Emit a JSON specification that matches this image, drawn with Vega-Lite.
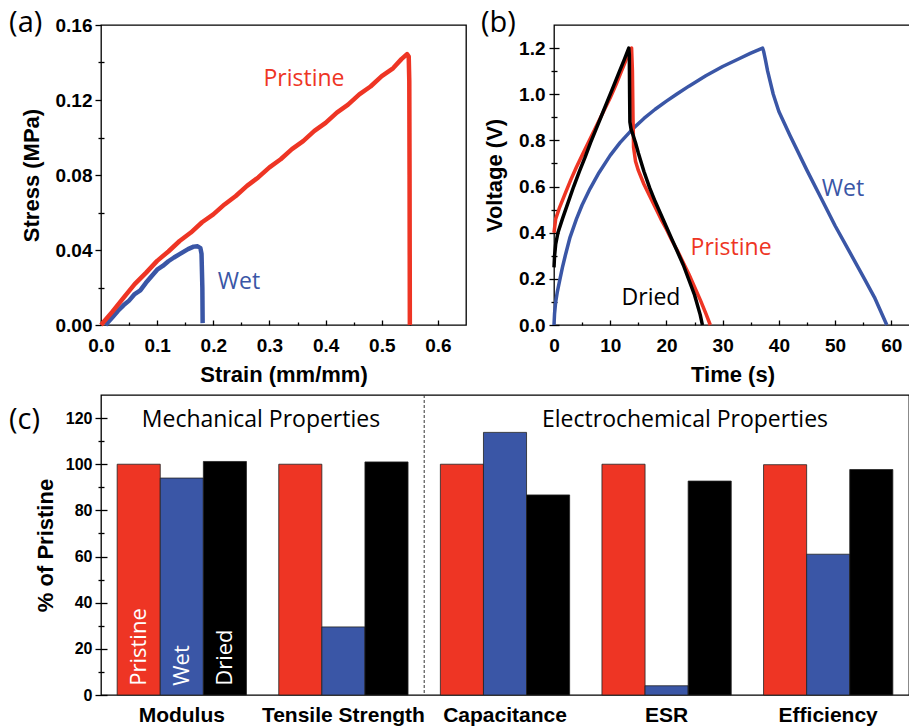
{
  "$schema": "https://vega.github.io/schema/vega-lite/v6.json",
  "padding": {"left": 8, "top": 8, "right": 0, "bottom": 0},
  "config": {
    "view": {"stroke": "#000", "strokeWidth": 1.3},
    "axis": {"grid": false, "domain": false, "labelFlush": false, "labelOverlap": false, "tickColor": "#000", "tickWidth": 1.3, "labelColor": "#000", "titleColor": "#000", "labelFont": "Liberation Sans", "titleFont": "Liberation Sans", "labelFontWeight": "bold", "titleFontWeight": "bold"},
    "text": {"font": "Open Sans"}
  },
  "spacing": 7,
  "vconcat": [
    {
      "spacing": 13,
      "hconcat": [
        {
          "width": 365,
          "height": 300,
          "layer": [
            {
              "data": {"values": [
                {"series": "Wet", "strain": 0.008, "stress": 0.0},
                {"series": "Wet", "strain": 0.02, "stress": 0.004},
                {"series": "Wet", "strain": 0.03, "stress": 0.0075},
                {"series": "Wet", "strain": 0.04, "stress": 0.0105},
                {"series": "Wet", "strain": 0.05, "stress": 0.013},
                {"series": "Wet", "strain": 0.06, "stress": 0.0165},
                {"series": "Wet", "strain": 0.07, "stress": 0.0185},
                {"series": "Wet", "strain": 0.08, "stress": 0.0225},
                {"series": "Wet", "strain": 0.09, "stress": 0.026},
                {"series": "Wet", "strain": 0.1, "stress": 0.0295},
                {"series": "Wet", "strain": 0.11, "stress": 0.0315},
                {"series": "Wet", "strain": 0.12, "stress": 0.034},
                {"series": "Wet", "strain": 0.13, "stress": 0.036},
                {"series": "Wet", "strain": 0.14, "stress": 0.0378},
                {"series": "Wet", "strain": 0.155, "stress": 0.0405},
                {"series": "Wet", "strain": 0.165, "stress": 0.0418},
                {"series": "Wet", "strain": 0.172, "stress": 0.042},
                {"series": "Wet", "strain": 0.177, "stress": 0.041},
                {"series": "Wet", "strain": 0.179, "stress": 0.038},
                {"series": "Wet", "strain": 0.1805, "stress": 0.02},
                {"series": "Wet", "strain": 0.181, "stress": 0.001},
                {"series": "Pristine", "strain": 0.0, "stress": 0.0},
                {"series": "Pristine", "strain": 0.02, "stress": 0.007},
                {"series": "Pristine", "strain": 0.04, "stress": 0.0145},
                {"series": "Pristine", "strain": 0.06, "stress": 0.0218},
                {"series": "Pristine", "strain": 0.08, "stress": 0.0278},
                {"series": "Pristine", "strain": 0.1, "stress": 0.0342},
                {"series": "Pristine", "strain": 0.12, "stress": 0.0392},
                {"series": "Pristine", "strain": 0.14, "stress": 0.0448},
                {"series": "Pristine", "strain": 0.16, "stress": 0.0493},
                {"series": "Pristine", "strain": 0.18, "stress": 0.0548},
                {"series": "Pristine", "strain": 0.2, "stress": 0.059},
                {"series": "Pristine", "strain": 0.22, "stress": 0.0643},
                {"series": "Pristine", "strain": 0.24, "stress": 0.0688},
                {"series": "Pristine", "strain": 0.26, "stress": 0.0742},
                {"series": "Pristine", "strain": 0.28, "stress": 0.0787},
                {"series": "Pristine", "strain": 0.3, "stress": 0.0841},
                {"series": "Pristine", "strain": 0.32, "stress": 0.0884},
                {"series": "Pristine", "strain": 0.34, "stress": 0.0938},
                {"series": "Pristine", "strain": 0.36, "stress": 0.0981},
                {"series": "Pristine", "strain": 0.38, "stress": 0.1035},
                {"series": "Pristine", "strain": 0.4, "stress": 0.1078},
                {"series": "Pristine", "strain": 0.42, "stress": 0.1133},
                {"series": "Pristine", "strain": 0.44, "stress": 0.1175},
                {"series": "Pristine", "strain": 0.46, "stress": 0.123},
                {"series": "Pristine", "strain": 0.48, "stress": 0.1272},
                {"series": "Pristine", "strain": 0.5, "stress": 0.1327},
                {"series": "Pristine", "strain": 0.52, "stress": 0.1369},
                {"series": "Pristine", "strain": 0.535, "stress": 0.1418},
                {"series": "Pristine", "strain": 0.545, "stress": 0.1445},
                {"series": "Pristine", "strain": 0.548, "stress": 0.1432},
                {"series": "Pristine", "strain": 0.549, "stress": 0.13},
                {"series": "Pristine", "strain": 0.5495, "stress": 0.08},
                {"series": "Pristine", "strain": 0.55, "stress": 0.0}
              ]},
              "mark": {"type": "line", "strokeWidth": 4.5, "strokeJoin": "round"},
              "encoding": {
                "x": {"field": "strain", "type": "quantitative", "scale": {"domain": [0, 0.65], "nice": false, "zero": false},
                  "axis": {"orient": "bottom", "values": [0, 0.1, 0.2, 0.3, 0.4, 0.5, 0.6], "format": ".1f", "tickSize": -5, "labelFontSize": 19, "labelPadding": 16, "title": "Strain (mm/mm)", "titleFontSize": 22, "titlePadding": 9}},
                "y": {"field": "stress", "type": "quantitative", "scale": {"domain": [0, 0.16], "nice": false},
                  "axis": {"orient": "left", "values": [0, 0.04, 0.08, 0.12, 0.16], "format": ".2f", "tickSize": 6, "labelFontSize": 19, "labelPadding": 3, "title": "Stress (MPa)", "titleFontSize": 22, "titlePadding": 12}},
                "color": {"field": "series", "type": "nominal", "scale": {"domain": ["Pristine", "Wet", "Dried"], "range": ["#EE3524", "#3A56A6", "#000000"]}, "legend": null}
              }
            },
            {
              "data": {"values": [
                {"series": "Pristine", "sx": 0.3615, "sy": 0.1312},
                {"series": "Wet", "sx": 0.2458, "sy": 0.0229}
              ]},
              "mark": {"type": "text", "fontSize": 23, "align": "center", "baseline": "middle"},
              "encoding": {
                "x": {"field": "sx", "type": "quantitative", "scale": {"domain": [0, 0.65], "nice": false, "zero": false}, "axis": null},
                "y": {"field": "sy", "type": "quantitative", "scale": {"domain": [0, 0.16], "nice": false}, "axis": null},
                "text": {"field": "series"},
                "color": {"field": "series", "type": "nominal", "scale": {"domain": ["Pristine", "Wet", "Dried"], "range": ["#EE3524", "#3A56A6", "#000000"]}, "legend": null}
              }
            },
            {
              "data": {"values": [{"panel": "(a)", "px": -0.1637, "py": 0.1611}]},
              "mark": {"type": "text", "fontSize": 29, "align": "left", "baseline": "middle", "color": "#000"},
              "encoding": {
                "x": {"field": "px", "type": "quantitative", "scale": {"domain": [0, 0.65], "nice": false, "zero": false}, "axis": null},
                "y": {"field": "py", "type": "quantitative", "scale": {"domain": [0, 0.16], "nice": false}, "axis": null},
                "text": {"field": "panel"}
              }
            },
            {
              "data": {"values": [{}]},
              "mark": {"type": "point", "opacity": 0},
              "encoding": {
                "x": {"datum": 0, "type": "quantitative", "scale": {"domain": [0, 0.65], "nice": false, "zero": false},
                  "axis": {"orient": "bottom", "values": [0.05, 0.15, 0.25, 0.35, 0.45, 0.55], "labels": false, "tickSize": -3, "title": null}},
                "y": {"datum": 0, "type": "quantitative", "scale": {"domain": [0, 0.16], "nice": false},
                  "axis": {"orient": "left", "values": [0.02, 0.06, 0.1, 0.14], "labels": false, "offset": -3, "tickSize": 6, "title": null}}
              }
            }
          ],
          "resolve": {"axis": {"x": "independent", "y": "independent"}}
        },
        {
          "width": 357,
          "height": 300,
          "layer": [
            {
              "data": {"values": [
                {"series": "Wet", "t": 0.0, "v": 0.0},
                {"series": "Wet", "t": 0.1, "v": 0.05},
                {"series": "Wet", "t": 0.3, "v": 0.1},
                {"series": "Wet", "t": 0.6, "v": 0.145},
                {"series": "Wet", "t": 1.07, "v": 0.2},
                {"series": "Wet", "t": 1.5, "v": 0.25},
                {"series": "Wet", "t": 2.0, "v": 0.3},
                {"series": "Wet", "t": 2.85, "v": 0.38},
                {"series": "Wet", "t": 4.0, "v": 0.46},
                {"series": "Wet", "t": 5.0, "v": 0.52},
                {"series": "Wet", "t": 6.4, "v": 0.59},
                {"series": "Wet", "t": 8.0, "v": 0.66},
                {"series": "Wet", "t": 10.0, "v": 0.735},
                {"series": "Wet", "t": 11.75, "v": 0.79},
                {"series": "Wet", "t": 14.0, "v": 0.85},
                {"series": "Wet", "t": 16.0, "v": 0.895},
                {"series": "Wet", "t": 18.0, "v": 0.935},
                {"series": "Wet", "t": 20.0, "v": 0.97},
                {"series": "Wet", "t": 21.8, "v": 1.0},
                {"series": "Wet", "t": 24.0, "v": 1.035},
                {"series": "Wet", "t": 27.0, "v": 1.08},
                {"series": "Wet", "t": 30.0, "v": 1.12},
                {"series": "Wet", "t": 33.0, "v": 1.155},
                {"series": "Wet", "t": 35.0, "v": 1.178},
                {"series": "Wet", "t": 37.1, "v": 1.2},
                {"series": "Wet", "t": 37.3, "v": 1.185},
                {"series": "Wet", "t": 37.6, "v": 1.15},
                {"series": "Wet", "t": 38.0, "v": 1.1},
                {"series": "Wet", "t": 39.0, "v": 1.0},
                {"series": "Wet", "t": 40.0, "v": 0.925},
                {"series": "Wet", "t": 42.0, "v": 0.82},
                {"series": "Wet", "t": 45.0, "v": 0.67},
                {"series": "Wet", "t": 47.5, "v": 0.55},
                {"series": "Wet", "t": 50.0, "v": 0.43},
                {"series": "Wet", "t": 52.5, "v": 0.32},
                {"series": "Wet", "t": 55.0, "v": 0.21},
                {"series": "Wet", "t": 57.0, "v": 0.12},
                {"series": "Wet", "t": 59.2, "v": 0.0},
                {"series": "Pristine", "t": 0.0, "v": 0.4},
                {"series": "Pristine", "t": 0.3, "v": 0.46},
                {"series": "Pristine", "t": 1.0, "v": 0.51},
                {"series": "Pristine", "t": 2.0, "v": 0.57},
                {"series": "Pristine", "t": 3.0, "v": 0.63},
                {"series": "Pristine", "t": 4.0, "v": 0.685},
                {"series": "Pristine", "t": 5.0, "v": 0.735},
                {"series": "Pristine", "t": 6.0, "v": 0.785},
                {"series": "Pristine", "t": 7.0, "v": 0.835},
                {"series": "Pristine", "t": 8.0, "v": 0.885},
                {"series": "Pristine", "t": 9.0, "v": 0.935},
                {"series": "Pristine", "t": 10.0, "v": 0.985},
                {"series": "Pristine", "t": 11.0, "v": 1.04},
                {"series": "Pristine", "t": 12.0, "v": 1.1},
                {"series": "Pristine", "t": 13.0, "v": 1.16},
                {"series": "Pristine", "t": 13.8, "v": 1.2},
                {"series": "Pristine", "t": 13.95, "v": 1.1},
                {"series": "Pristine", "t": 14.05, "v": 0.9},
                {"series": "Pristine", "t": 14.15, "v": 0.77},
                {"series": "Pristine", "t": 14.5, "v": 0.71},
                {"series": "Pristine", "t": 15.0, "v": 0.67},
                {"series": "Pristine", "t": 16.0, "v": 0.61},
                {"series": "Pristine", "t": 17.0, "v": 0.56},
                {"series": "Pristine", "t": 18.0, "v": 0.51},
                {"series": "Pristine", "t": 19.0, "v": 0.46},
                {"series": "Pristine", "t": 20.0, "v": 0.415},
                {"series": "Pristine", "t": 21.0, "v": 0.365},
                {"series": "Pristine", "t": 22.0, "v": 0.32},
                {"series": "Pristine", "t": 23.0, "v": 0.27},
                {"series": "Pristine", "t": 24.0, "v": 0.22},
                {"series": "Pristine", "t": 25.0, "v": 0.165},
                {"series": "Pristine", "t": 26.0, "v": 0.11},
                {"series": "Pristine", "t": 27.0, "v": 0.05},
                {"series": "Pristine", "t": 27.8, "v": 0.0},
                {"series": "Dried", "t": 0.0, "v": 0.25},
                {"series": "Dried", "t": 0.1, "v": 0.3},
                {"series": "Dried", "t": 0.3, "v": 0.35},
                {"series": "Dried", "t": 0.7, "v": 0.4},
                {"series": "Dried", "t": 1.5, "v": 0.46},
                {"series": "Dried", "t": 2.5, "v": 0.53},
                {"series": "Dried", "t": 3.5, "v": 0.6},
                {"series": "Dried", "t": 4.5, "v": 0.665},
                {"series": "Dried", "t": 5.5, "v": 0.725},
                {"series": "Dried", "t": 6.5, "v": 0.79},
                {"series": "Dried", "t": 7.5, "v": 0.85},
                {"series": "Dried", "t": 8.5, "v": 0.91},
                {"series": "Dried", "t": 9.5, "v": 0.97},
                {"series": "Dried", "t": 10.5, "v": 1.03},
                {"series": "Dried", "t": 11.5, "v": 1.09},
                {"series": "Dried", "t": 12.5, "v": 1.15},
                {"series": "Dried", "t": 13.3, "v": 1.2},
                {"series": "Dried", "t": 13.4, "v": 1.17},
                {"series": "Dried", "t": 13.45, "v": 1.0},
                {"series": "Dried", "t": 13.5, "v": 0.88},
                {"series": "Dried", "t": 13.7, "v": 0.85},
                {"series": "Dried", "t": 14.1, "v": 0.82},
                {"series": "Dried", "t": 14.5, "v": 0.79},
                {"series": "Dried", "t": 15.0, "v": 0.745},
                {"series": "Dried", "t": 16.0, "v": 0.665},
                {"series": "Dried", "t": 17.0, "v": 0.595},
                {"series": "Dried", "t": 18.0, "v": 0.535},
                {"series": "Dried", "t": 19.0, "v": 0.48},
                {"series": "Dried", "t": 20.0, "v": 0.425},
                {"series": "Dried", "t": 21.0, "v": 0.37},
                {"series": "Dried", "t": 22.0, "v": 0.315},
                {"series": "Dried", "t": 23.0, "v": 0.26},
                {"series": "Dried", "t": 24.0, "v": 0.195},
                {"series": "Dried", "t": 25.0, "v": 0.13},
                {"series": "Dried", "t": 26.0, "v": 0.045},
                {"series": "Dried", "t": 26.4, "v": 0.0}
              ]},
              "mark": {"type": "line", "strokeWidth": 3.5, "strokeJoin": "round"},
              "encoding": {
                "x": {"field": "t", "type": "quantitative", "scale": {"domain": [0, 63.5], "nice": false, "zero": false},
                  "axis": {"orient": "bottom", "values": [0, 10, 20, 30, 40, 50, 60], "tickSize": -5, "labelFontSize": 19, "labelPadding": 16, "title": "Time (s)", "titleFontSize": 22, "titlePadding": 9}},
                "y": {"field": "v", "type": "quantitative", "scale": {"domain": [0, 1.3], "nice": false},
                  "axis": {"orient": "left", "values": [0, 0.2, 0.4, 0.6, 0.8, 1.0, 1.2], "format": ".1f", "offset": -5, "tickSize": 10, "labelFontSize": 19, "labelPadding": 4, "title": "Voltage (V)", "titleFontSize": 22, "titlePadding": 12}},
                "color": {"field": "series", "type": "nominal", "scale": {"domain": ["Pristine", "Wet", "Dried"], "range": ["#EE3524", "#3A56A6", "#000000"]}, "legend": null}
              }
            },
            {
              "data": {"values": [
                {"series": "Wet", "sx": 51.4, "sy": 0.589},
                {"series": "Pristine", "sx": 31.5, "sy": 0.334},
                {"series": "Dried", "sx": 17.25, "sy": 0.117}
              ]},
              "mark": {"type": "text", "fontSize": 23, "align": "center", "baseline": "middle"},
              "encoding": {
                "x": {"field": "sx", "type": "quantitative", "scale": {"domain": [0, 63.5], "nice": false, "zero": false}, "axis": null},
                "y": {"field": "sy", "type": "quantitative", "scale": {"domain": [0, 1.3], "nice": false}, "axis": null},
                "text": {"field": "series"},
                "color": {"field": "series", "type": "nominal", "scale": {"domain": ["Pristine", "Wet", "Dried"], "range": ["#EE3524", "#3A56A6", "#000000"]}, "legend": null}
              }
            },
            {
              "data": {"values": [{"panel": "(b)", "px": -12.98, "py": 1.3087}]},
              "mark": {"type": "text", "fontSize": 29, "align": "left", "baseline": "middle", "color": "#000"},
              "encoding": {
                "x": {"field": "px", "type": "quantitative", "scale": {"domain": [0, 63.5], "nice": false, "zero": false}, "axis": null},
                "y": {"field": "py", "type": "quantitative", "scale": {"domain": [0, 1.3], "nice": false}, "axis": null},
                "text": {"field": "panel"}
              }
            },
            {
              "data": {"values": [{}]},
              "mark": {"type": "point", "opacity": 0},
              "encoding": {
                "x": {"datum": 0, "type": "quantitative", "scale": {"domain": [0, 63.5], "nice": false, "zero": false},
                  "axis": {"orient": "bottom", "values": [5, 15, 25, 35, 45, 55], "labels": false, "tickSize": -3, "title": null}},
                "y": {"datum": 0, "type": "quantitative", "scale": {"domain": [0, 1.3], "nice": false},
                  "axis": {"orient": "left", "values": [0.1, 0.3, 0.5, 0.7, 0.9, 1.1], "labels": false, "offset": -3, "tickSize": 6, "title": null}}
              }
            }
          ],
          "resolve": {"axis": {"x": "independent", "y": "independent"}}
        }
      ]
    },
    {
      "width": 808,
      "height": 300,
      "layer": [
        {
          "data": {"values": [
            {"cat": "Modulus", "series": "Pristine", "value": 100},
            {"cat": "Modulus", "series": "Wet", "value": 94},
            {"cat": "Modulus", "series": "Dried", "value": 101.2},
            {"cat": "Tensile Strength", "series": "Pristine", "value": 100},
            {"cat": "Tensile Strength", "series": "Wet", "value": 29.5},
            {"cat": "Tensile Strength", "series": "Dried", "value": 101},
            {"cat": "Capacitance", "series": "Pristine", "value": 100},
            {"cat": "Capacitance", "series": "Wet", "value": 113.8},
            {"cat": "Capacitance", "series": "Dried", "value": 86.7},
            {"cat": "ESR", "series": "Pristine", "value": 100},
            {"cat": "ESR", "series": "Wet", "value": 4},
            {"cat": "ESR", "series": "Dried", "value": 92.7},
            {"cat": "Efficiency", "series": "Pristine", "value": 99.8},
            {"cat": "Efficiency", "series": "Wet", "value": 61},
            {"cat": "Efficiency", "series": "Dried", "value": 97.7}
          ]},
          "mark": {"type": "bar", "stroke": "#222", "strokeWidth": 0.8},
          "encoding": {
            "x": {"field": "cat", "type": "nominal", "sort": null, "scale": {"domain": ["Modulus", "Tensile Strength", "Capacitance", "ESR", "Efficiency"], "paddingInner": 0.2, "paddingOuter": 0.1},
              "axis": {"orient": "bottom", "title": null, "labelAngle": 0, "ticks": false, "labelFontSize": 21, "labelPadding": 9}},
            "xOffset": {"field": "series", "type": "nominal", "sort": null, "scale": {"domain": ["Pristine", "Wet", "Dried"], "paddingInner": 0, "paddingOuter": 0}},
            "y": {"field": "value", "type": "quantitative", "scale": {"domain": [0, 130], "nice": false},
              "axis": {"orient": "left", "values": [0, 20, 40, 60, 80, 100, 120], "offset": -6, "tickSize": 12, "labelFontSize": 16, "labelPadding": 3, "title": "% of Pristine", "titleFontSize": 22, "titlePadding": 8}},
            "color": {"field": "series", "type": "nominal", "scale": {"domain": ["Pristine", "Wet", "Dried"], "range": ["#EC3027", "#3A55A5", "#000000"]}, "legend": null}
          }
        },
        {
          "data": {"values": [
            {"cat": "Modulus", "series": "Pristine"},
            {"cat": "Modulus", "series": "Wet"},
            {"cat": "Modulus", "series": "Dried"}
          ]},
          "mark": {"type": "text", "angle": 270, "align": "left", "baseline": "middle", "fontSize": 22, "color": "#ffffff"},
          "encoding": {
            "x": {"field": "cat", "type": "nominal", "sort": null, "scale": {"domain": ["Modulus", "Tensile Strength", "Capacitance", "ESR", "Efficiency"], "paddingInner": 0.2, "paddingOuter": 0.1}, "axis": null},
            "xOffset": {"field": "series", "type": "nominal", "sort": null, "scale": {"domain": ["Pristine", "Wet", "Dried"], "paddingInner": 0, "paddingOuter": 0}},
            "y": {"datum": 4, "type": "quantitative", "scale": {"domain": [0, 130], "nice": false}, "axis": null},
            "text": {"field": "series"}
          }
        },
        {
          "data": {"values": [{"pos": 2}]},
          "mark": {"type": "rule", "strokeDash": [3, 2], "color": "#333", "strokeWidth": 1},
          "encoding": {
            "x": {"field": "pos", "type": "quantitative", "scale": {"domain": [0, 5], "nice": false, "zero": false}, "axis": null}
          }
        },
        {
          "data": {"values": [
            {"label": "Mechanical Properties", "pos": 0.99, "val": 119},
            {"label": "Electrochemical Properties", "pos": 3.614, "val": 119}
          ]},
          "mark": {"type": "text", "fontSize": 23, "align": "center", "baseline": "middle", "color": "#000"},
          "encoding": {
            "x": {"field": "pos", "type": "quantitative", "scale": {"domain": [0, 5], "nice": false, "zero": false}, "axis": null},
            "y": {"field": "val", "type": "quantitative", "scale": {"domain": [0, 130], "nice": false}, "axis": null},
            "text": {"field": "label"}
          }
        },
        {
          "data": {"values": [{"label": "(c)", "pos": -0.569, "val": 119.2}]},
          "mark": {"type": "text", "fontSize": 29, "align": "left", "baseline": "middle", "color": "#000"},
          "encoding": {
            "x": {"field": "pos", "type": "quantitative", "scale": {"domain": [0, 5], "nice": false, "zero": false}, "axis": null},
            "y": {"field": "val", "type": "quantitative", "scale": {"domain": [0, 130], "nice": false}, "axis": null},
            "text": {"field": "label"}
          }
        },
        {
          "data": {"values": [{}]},
          "mark": {"type": "point", "opacity": 0},
          "encoding": {
            "y": {"datum": 0, "type": "quantitative", "scale": {"domain": [0, 130], "nice": false},
              "axis": {"orient": "left", "values": [10, 30, 50, 70, 90, 110], "labels": false, "offset": -3, "tickSize": 6, "title": null}}
          }
        }
      ],
      "resolve": {"scale": {"x": "independent"}, "axis": {"x": "independent", "y": "independent"}}
    }
  ]
}
